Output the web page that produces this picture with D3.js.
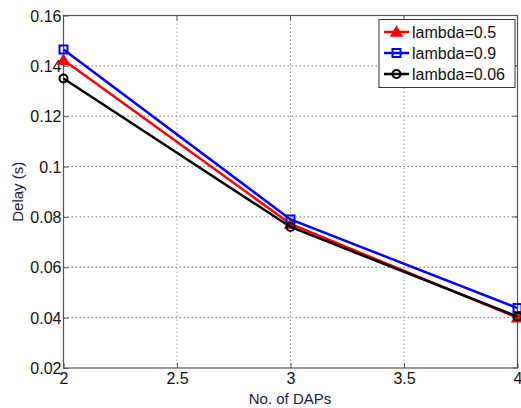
<!DOCTYPE html>
<html><head><meta charset="utf-8">
<script src="https://cdn.jsdelivr.net/npm/d3@7"></script>
<style>body{margin:0;background:#fff}</style>
</head><body>
<svg id="c" width="521" height="408"></svg>
<script>
const xValues = [2, 3, 4];
const seriesNames = ["lambda=0.5", "lambda=0.9", "lambda=0.06"];
const lambda05 = [0.1423, 0.0772, 0.0400];
const lambda09 = [0.1465, 0.0790, 0.0438];
const lambda006 = [0.1350, 0.0760, 0.0404];
const xTicks = [2, 2.5, 3, 3.5, 4];
const yTicks = [0.02, 0.04, 0.06, 0.08, 0.1, 0.12, 0.14, 0.16];
const colors = ["#ff0000", "#0000ff", "#000000"];
const markers = ["triangle", "square", "circle"];

const svg = d3.select("#c");
const L = 63.5, R = 517.5, T = 15.5, B = 368;
const x = d3.scaleLinear().domain([2, 4]).range([L, R]);
const y = d3.scaleLinear().domain([0.02, 0.16]).range([B, T]);
const font = "Liberation Sans, Arial, sans-serif";

// grid
const g = svg.append("g");
g.selectAll("line.vx").data(xTicks.slice(1, -1)).enter().append("line")
  .attr("x1", d => x(d)).attr("x2", d => x(d)).attr("y1", T).attr("y2", B)
  .attr("stroke", "#999").attr("stroke-width", 1).attr("stroke-dasharray", "1.5,2.5");
g.selectAll("line.hy").data(yTicks.slice(1, -1)).enter().append("line")
  .attr("y1", d => y(d)).attr("y2", d => y(d)).attr("x1", L).attr("x2", R)
  .attr("stroke", "#777").attr("stroke-width", 1).attr("stroke-dasharray", "1.5,2.5");

// axes
const xAxis = d3.axisBottom(x).tickValues(xTicks).tickSize(-5).tickPadding(5).tickFormat(d3.format("~g"));
const yAxis = d3.axisLeft(y).tickValues(yTicks).tickSize(-5).tickPadding(2).tickFormat(d => d3.format(".2f")(d).replace(/^0\.10$/, "0.1"));
const xa = svg.append("g").attr("transform", `translate(0,${B})`).call(xAxis);
const ya = svg.append("g").attr("transform", `translate(${L},0)`).call(yAxis);
[xa, ya].forEach(a => {
  a.select(".domain").remove();
  a.selectAll("line").attr("stroke", "#555");
  a.selectAll("text").attr("font-family", font).attr("font-size", 16).attr("fill", "#111");
});
ya.selectAll("text").attr("dy", "0.35em");
// top/right ticks
svg.append("g").selectAll("line").data(xTicks).enter().append("line")
  .attr("x1", d => x(d)).attr("x2", d => x(d)).attr("y1", T).attr("y2", T + 5).attr("stroke", "#555");
svg.append("g").selectAll("line").data(yTicks).enter().append("line")
  .attr("y1", d => y(d)).attr("y2", d => y(d)).attr("x1", R).attr("x2", R - 5).attr("stroke", "#555");

// box
svg.append("rect").attr("x", L).attr("y", T).attr("width", R - L).attr("height", B - T)
  .attr("fill", "none").attr("stroke", "#555").attr("stroke-width", 1.2);

// series
const data = [lambda05, lambda09, lambda006];
const line = d3.line().x((d, i) => x(xValues[i])).y(d => y(d));
function marker(sel, type, color, cx, cy) {
  if (type === "triangle") {
    sel.append("path").attr("d", d3.symbol(d3.symbolTriangle, 50)()).attr("transform", `translate(${cx},${cy + 1})`)
      .attr("fill", color).attr("stroke", color).attr("stroke-width", 1.5);
  } else if (type === "square") {
    sel.append("rect").attr("x", cx - 4).attr("y", cy - 4).attr("width", 8).attr("height", 8)
      .attr("fill", "none").attr("stroke", color).attr("stroke-width", 2);
  } else {
    sel.append("circle").attr("cx", cx).attr("cy", cy).attr("r", 4)
      .attr("fill", "none").attr("stroke", color).attr("stroke-width", 2);
  }
}
[0, 1, 2].forEach(k => {
  const s = svg.append("g");
  s.append("path").datum(data[k]).attr("d", line).attr("fill", "none")
    .attr("stroke", colors[k]).attr("stroke-width", 2.5);
  data[k].forEach((v, i) => marker(s, markers[k], colors[k], x(xValues[i]), y(v)));
});

// legend
const lg = svg.append("g");
lg.append("rect").attr("x", 379).attr("y", 19.5).attr("width", 136).attr("height", 68)
  .attr("fill", "#fff").attr("stroke", "#333").attr("stroke-width", 1);
seriesNames.forEach((n, k) => {
  const ly = 32 + k * 21;
  lg.append("line").attr("x1", 384).attr("x2", 409).attr("y1", ly).attr("y2", ly)
    .attr("stroke", colors[k]).attr("stroke-width", 2.5);
  marker(lg, markers[k], colors[k], 396.5, ly);
  lg.append("text").attr("x", 412).attr("y", ly).attr("dy", "0.35em")
    .attr("font-family", font).attr("font-size", 16).attr("fill", "#111").text(n);
});

// axis labels
svg.append("text").attr("x", 290).attr("y", 404).attr("text-anchor", "middle")
  .attr("font-family", font).attr("font-size", 15).attr("fill", "#1a1a4a").text("No. of DAPs");
svg.append("text").attr("transform", `translate(23,${(T + B) / 2}) rotate(-90)`).attr("text-anchor", "middle")
  .attr("font-family", font).attr("font-size", 15).attr("fill", "#1a1a4a").text("Delay (s)");
</script>
</body></html>
